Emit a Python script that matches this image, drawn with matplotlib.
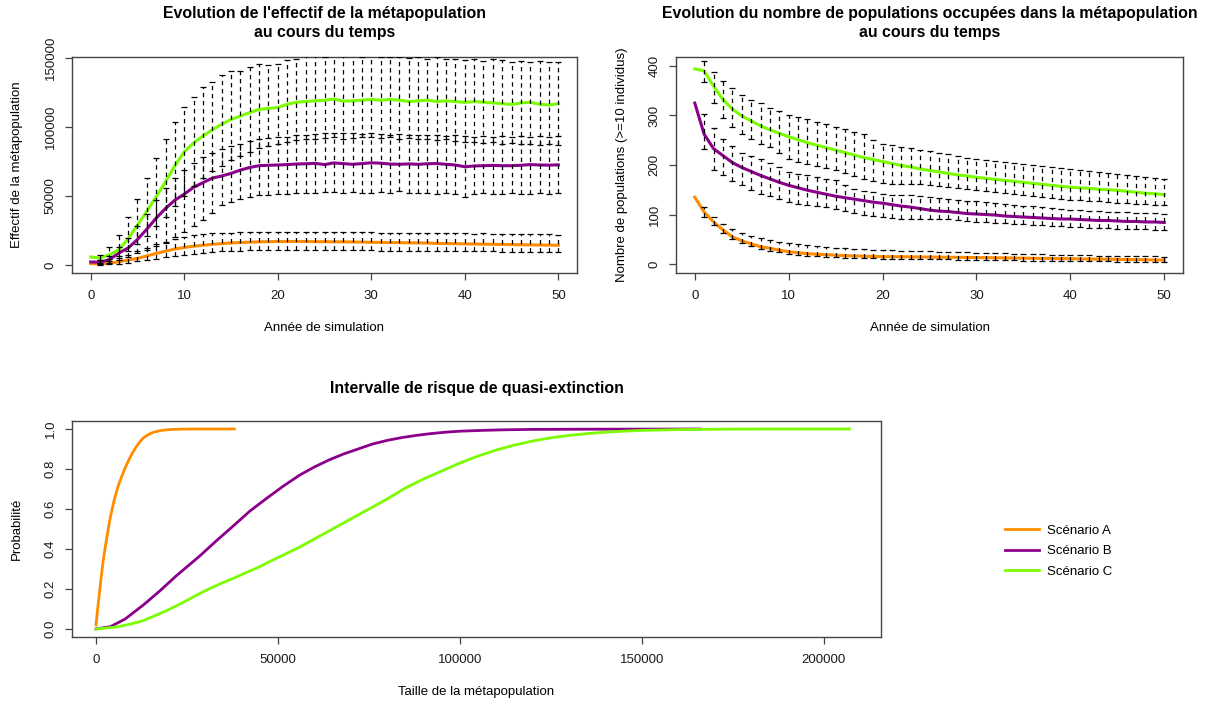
import numpy as np
import matplotlib
matplotlib.use('Agg')
import matplotlib.pyplot as plt

plt.rcParams['font.family'] = ['Liberation Sans', 'DejaVu Sans']
plt.rcParams['font.size'] = 9.5

# ---- data ----
years = np.arange(0, 51)
bar_years = np.arange(1, 51)

# metapopulation size (mean per year)
effA = [1000, 800, 1200, 2400, 3600, 4800, 6600, 8400, 10000, 11600, 12700, 13600, 14300, 15000, 15500,
        16000, 16300, 16500, 16800, 16900, 17000, 17000, 17100, 17000, 16900, 16900, 16800, 16800, 16700,
        16600, 16500, 16400, 16300, 16200, 16100, 16000, 15900, 15700, 15600, 15400, 15300, 15200, 15100,
        15000, 14900, 14800, 14700, 14600, 14500, 14400, 14300]
effB = [2200, 2000, 3800, 8700, 12300, 18500, 26000, 34000, 41000, 47000, 51400, 56300, 59700, 63000, 64500,
        66400, 68800, 70700, 72000, 72300, 72500, 72800, 73200, 73400, 73700, 72800, 74000, 73500, 73000,
        73500, 74100, 73800, 73200, 73000, 73300, 73000, 73400, 73600, 73000, 72500, 71200, 71800, 72000,
        72200, 72000, 72000, 72300, 72800, 72500, 72400, 72600]
effC = [5800, 5000, 7500, 11000, 19000, 29000, 39000, 49500, 60400, 72000, 82000, 88500, 93500, 98000, 102000,
        105500, 108000, 110500, 112800, 113500, 114200, 116500, 118000, 118500, 119000, 119500, 120300, 118800,
        119000, 119500, 120000, 119500, 120000, 119500, 118500, 119000, 119500, 118500, 119000, 118500, 117900,
        118500, 118000, 117500, 117000, 116400, 117500, 118000, 116500, 116000, 117000]
# interval bounds, years 1..50
effA_hi = [1500, 3000, 5000, 7500, 10000, 12500, 15000, 17000, 19000, 20500, 21500, 22500, 23000, 23500, 23500,
           23600, 23700, 23800, 23800, 23900, 24000, 23900, 24000, 23900, 23800, 23900, 23700, 23800, 23600, 23700,
           23500, 23400, 23500, 23300, 23200, 23300, 23100, 23000, 23100, 22900, 22800, 22900, 22700, 22600, 22700,
           22500, 22400, 22300, 22200, 22100]
effA_lo = [300, 500, 1000, 1800, 2600, 3500, 4500, 5500, 6500, 7400, 8200, 8900, 9400, 9800, 10200,
           10500, 10600, 10700, 10800, 10800, 10900, 10900, 10800, 10900, 10800, 10800, 10700, 10700, 10600, 10600,
           10500, 10500, 10400, 10400, 10300, 10200, 10200, 10100, 10000, 10000, 9900, 9800, 9800, 9700, 9600,
           9600, 9500, 9400, 9400, 9300]
effB_hi = [3500, 6500, 13000, 19500, 28000, 37000, 47000, 56000, 63000, 69000, 74000, 78000, 81500, 84000, 86000,
           88000, 90000, 91500, 92000, 92500, 93000, 94000, 94500, 95000, 95500, 96000, 95500, 96000, 95000, 95500,
           95000, 94500, 95000, 94500, 94000, 94500, 94000, 93500, 94000, 93500, 93000, 93500, 93000, 93500, 93000,
           93500, 93000, 93500, 93000, 93500]
effB_lo = [800, 1500, 3500, 6000, 8500, 10900, 13500, 16200, 20000, 24100, 28000, 32600, 38000, 43500, 46000,
           48000, 49500, 50500, 51000, 51400, 51800, 52000, 52500, 52000, 52800, 53000, 52500, 53000, 52500, 52000,
           52800, 52500, 53600, 52000, 52500, 52000, 51500, 52000, 51800, 49000, 51500, 52000, 51500, 51800, 52000,
           51500, 51800, 52000, 51500, 52000]
effC_hi = [7000, 12800, 21700, 34500, 47800, 62800, 77800, 91300, 103600, 114200, 122000, 129200, 132800, 137700,
           140800, 141000, 143700, 145400, 145000, 145500, 148500, 149700, 151500, 152000, 151000, 152000, 151500,
           152000, 151000, 152500, 151000, 150500, 151000, 150000, 150500, 149500, 150500, 149000, 149500, 148500,
           149000, 148000, 149000, 148500, 147500, 148000, 147500, 148000, 147000, 147500]
effC_lo = [3500, 4500, 6500, 10000, 15000, 21000, 28000, 35000, 43000, 50000, 57000, 63000, 68000, 72000, 76000,
           79000, 82000, 85000, 86500, 88000, 89000, 90500, 91000, 91500, 92000, 92500, 91500, 92000, 92500, 93000,
           92000, 92500, 91500, 92000, 91000, 91500, 90500, 91000, 90000, 89500, 89000, 88500, 89000, 88000, 88500,
           87500, 88000, 87000, 87500, 87000]

# number of occupied populations (>=10 individuals)
popA = [135, 105, 85, 69, 55, 47, 41, 35, 32, 28, 25, 23, 21, 20, 19, 18, 17, 16.5, 16, 15.5, 15, 15, 14.8,
        14.6, 14.4, 14.2, 14, 13.8, 13.6, 13.4, 13.2, 13, 12.8, 12.5, 12.2, 12, 11.8, 11.5, 11.2, 11, 10.8, 10.5,
        10.2, 10, 9.8, 9.5, 9.2, 9, 8.7, 8.4, 8]
popB = [325, 262, 233, 219, 205, 195, 187, 179, 172, 165, 159, 154, 149, 145, 141, 137, 134, 131, 128, 125, 123,
        120, 117, 115, 112, 109, 107, 106, 104, 102, 101, 100, 99, 97, 96, 95, 94, 93, 92, 91, 91, 90, 89, 88, 88,
        87, 86, 86, 85, 85, 84]
popC = [394, 390, 359, 332, 313, 299, 289, 279, 271, 264, 257, 251, 245, 240, 235, 230, 225, 220, 215, 211, 207,
        203, 199, 196, 192, 189, 186, 183, 180, 178, 175, 173, 171, 169, 167, 165, 163, 161, 159, 157, 155, 154,
        153, 151, 150, 149, 147, 145, 143, 142, 140]
popA_hi = [116, 96, 80, 70, 62, 56, 52, 48, 45, 42, 40, 38, 36, 35, 33, 32, 31, 30, 29, 28, 27.5, 27, 26.5, 26,
           25.5, 25, 24.5, 24, 23.5, 23, 22.5, 22, 21.5, 21, 20.5, 20, 19.6, 19.2, 18.8, 18.4, 18, 17.6, 17.3, 17,
           16.7, 16.4, 16, 15.7, 15.4, 15]
popA_lo = [96, 78, 62, 50, 42, 36, 30, 27, 24, 21, 19, 17, 16, 15, 14, 13, 12.5, 12, 11.5, 11, 10.8, 10.6, 10.4,
           10.2, 10, 9.8, 9.5, 9.2, 9, 8.7, 8.4, 8.1, 7.8, 7.5, 7.2, 7, 6.8, 6.6, 6.4, 6.2, 6, 5.8, 5.6, 5.4, 5.2,
           5, 4.8, 4.6, 4.4, 4.2]
popB_hi = [302, 275, 253, 239, 225, 218, 212, 205, 195, 185, 182, 179, 176, 172, 169, 160, 152, 148, 145, 142,
           140, 139, 139, 138, 136, 134, 132, 130, 128, 127, 125, 123, 121, 119, 118, 117, 116, 114, 112, 110, 109,
           108, 107, 106, 106, 105, 104, 103, 103, 102]
popB_lo = [232, 189, 179, 168, 159, 150, 142, 137, 131, 125, 122, 119, 117, 115, 112, 108, 104, 100, 98, 96, 94,
           92, 92, 92, 92, 91, 90, 88, 87, 85, 84, 83, 82, 81, 80, 79, 78, 77, 76, 75, 74, 73, 73, 72, 71, 71, 70,
           70, 69, 69]
popC_hi = [409, 387, 370, 355, 342, 332, 325, 315, 309, 301, 297, 292, 287, 282, 277, 272, 267, 262, 251, 242,
           240, 237, 234, 231, 229, 225, 222, 218, 215, 212, 210, 208, 206, 204, 202, 200, 198, 196, 194, 192, 190,
           188, 186, 184, 182, 180, 178, 176, 174, 171]
popC_lo = [367, 325, 295, 277, 262, 252, 243, 236, 224, 212, 207, 202, 197, 193, 189, 184, 178, 172, 167, 163,
           162, 162, 162, 161, 160, 158, 156, 154, 152, 150, 148, 146, 144, 142, 140, 138, 136, 134, 132, 130, 129,
           128, 127, 126, 124, 123, 122, 121, 120, 119]

# quasi-extinction risk curves
riskA_x = [0, 500, 1000, 1500, 2000, 2500, 3000, 3500, 4000, 5000, 6000, 7000, 8000, 9000, 10000, 11000,
           12000, 13000, 14000, 15000, 16000, 18000, 20000, 23000, 26000, 38000]
riskA_p = [0.02, 0.11, 0.19, 0.27, 0.345, 0.405, 0.46, 0.515, 0.565, 0.645, 0.71, 0.76, 0.805, 0.845, 0.88,
           0.91, 0.935, 0.955, 0.968, 0.978, 0.985, 0.993, 0.997, 0.999, 1.0, 1.0]
riskB_x = [0, 4000, 8000, 13000, 17500, 22000, 28500, 33000, 37700, 42300, 47000, 51500, 56000, 60000, 64000,
           68000, 72000, 76000, 80000, 84000, 88000, 92000, 96000, 100000, 106000, 112000, 120000, 135000, 166000]
riskB_p = [0, 0.012, 0.05, 0.12, 0.19, 0.265, 0.365, 0.44, 0.515, 0.59, 0.655, 0.715, 0.77, 0.81, 0.845,
           0.875, 0.9, 0.925, 0.943, 0.957, 0.968, 0.977, 0.984, 0.989, 0.993, 0.996, 0.998, 0.999, 1.0]
riskC_x = [0, 5700, 10000, 13000, 16000, 19400, 22000, 24900, 27500, 30400, 34000, 37700, 41000, 45000, 48000,
           51500, 56000, 60000, 65000, 70000, 75000, 80000, 85000, 90000, 95000, 100000, 105000, 110000, 115000,
           120000, 125000, 130000, 135000, 140000, 145000, 150000, 160000, 170000, 185000, 207000]
riskC_p = [0, 0.01, 0.027, 0.042, 0.065, 0.092, 0.115, 0.142, 0.168, 0.195, 0.225, 0.253, 0.28, 0.312, 0.34,
           0.37, 0.41, 0.45, 0.5, 0.55, 0.6, 0.65, 0.705, 0.75, 0.79, 0.83, 0.865, 0.895, 0.92, 0.94, 0.956,
           0.968, 0.977, 0.984, 0.989, 0.993, 0.997, 0.999, 1.0, 1.0]

labels = ['Scénario A', 'Scénario B', 'Scénario C']
colors = ['#FF8C00', '#8B008B', '#7CFC00']

W, H = 1206, 704
fig = plt.figure(figsize=(W / 100, H / 100), dpi=100)


def px_axes(x0, y0, x1, y1):
    return fig.add_axes([x0 / W, 1 - y1 / H, (x1 - x0) / W, (y1 - y0) / H])


def r_style(ax):
    for s in ax.spines.values():
        s.set_color('#444444')
        s.set_linewidth(1.0)
    ax.tick_params(length=5, width=0.9, color='#444444', labelcolor='#1a1a1a')
    ax.tick_params(axis='x', pad=7)
    ax.tick_params(axis='y', pad=6, labelrotation=90)
    for lab in ax.get_yticklabels():
        lab.set_va('center')


def draw_bars(ax, lo, hi):
    ax.vlines(bar_years, lo, hi, colors='black', linewidth=0.9, linestyles=(0, (3.5, 3)), zorder=3)
    ax.plot(bar_years, hi, ls='none', marker='_', ms=4.5, mew=0.9, color='black', zorder=3)
    ax.plot(bar_years, lo, ls='none', marker='_', ms=4.5, mew=0.9, color='black', zorder=3)


def title(ax, lines, y0, y1):
    # y0/y1: pixel rows of axes top/bottom; one text per title line
    for txt, yc in lines:
        ax.text(0.5, (y1 - yc) / (y1 - y0), txt, transform=ax.transAxes, ha='center', va='center',
                fontweight='bold', fontsize=11.4)


# ---- top left: metapopulation size ----
ax1 = px_axes(72, 57, 577, 273)
for y, c in zip([effA, effB, effC], colors):
    ax1.plot(years, y, color=c, lw=2.2, zorder=2)
for lo, hi in [(effA_lo, effA_hi), (effB_lo, effB_hi), (effC_lo, effC_hi)]:
    draw_bars(ax1, lo, hi)
ax1.set_xlim(-2, 52)
ax1.set_ylim(-5800, 150800)
ax1.set_xticks([0, 10, 20, 30, 40, 50])
ax1.set_yticks([0, 50000, 100000, 150000])
ax1.set_yticklabels(['0', '50000', '100000', '150000'])
r_style(ax1)
ax1.set_xlabel('Année de simulation')
ax1.xaxis.set_label_coords(0.5, -(328 - 273) / 216)
ax1.xaxis.label.set_va('center')
ax1.set_ylabel('Effectif de la métapopulation')
ax1.yaxis.set_label_coords(-(72 - 17) / 505, 0.5)
ax1.yaxis.label.set_va('center')
title(ax1, [("Evolution de l'effectif de la métapopulation", 14), ("au cours du temps", 33)], 57, 273)

# ---- top right: occupied populations ----
ax2 = px_axes(676, 57, 1183, 273)
for y, c in zip([popA, popB, popC], colors):
    ax2.plot(years, y, color=c, lw=2.2, zorder=2)
for lo, hi in [(popA_lo, popA_hi), (popB_lo, popB_hi), (popC_lo, popC_hi)]:
    draw_bars(ax2, lo, hi)
ax2.set_xlim(-2, 52)
ax2.set_ylim(-18, 418)
ax2.set_xticks([0, 10, 20, 30, 40, 50])
ax2.set_yticks([0, 100, 200, 300, 400])
r_style(ax2)
ax2.set_xlabel('Année de simulation')
ax2.xaxis.set_label_coords(0.5, -(328 - 273) / 216)
ax2.xaxis.label.set_va('center')
ax2.set_ylabel('Nombre de populations (>=10 individus)')
ax2.yaxis.set_label_coords(-(676 - 622) / 507, 0.5)
ax2.yaxis.label.set_va('center')
title(ax2, [("Evolution du nombre de populations occupées dans la métapopulation", 14),
            ("au cours du temps", 33)], 57, 273)

# ---- bottom: quasi-extinction risk ----
ax3 = px_axes(72, 421, 881, 637)
lines = []
for xs, ps, c, lab in zip([riskA_x, riskB_x, riskC_x], [riskA_p, riskB_p, riskC_p], colors, labels):
    ln, = ax3.plot(xs, ps, color=c, lw=2.0, label=lab)
    lines.append(ln)
ax3.set_xlim(-6600, 215700)
ax3.set_ylim(-0.04, 1.04)
ax3.set_xticks([0, 50000, 100000, 150000, 200000])
ax3.set_yticks([0, 0.2, 0.4, 0.6, 0.8, 1.0])
ax3.set_yticklabels(['0.0', '0.2', '0.4', '0.6', '0.8', '1.0'])
r_style(ax3)
ax3.set_xlabel('Taille de la métapopulation')
ax3.xaxis.set_label_coords(0.5, -(692 - 637) / 216)
ax3.xaxis.label.set_va('center')
ax3.set_ylabel('Probabilité')
ax3.yaxis.set_label_coords(-(72 - 17) / 809, 0.5)
ax3.yaxis.label.set_va('center')
title(ax3, [('Intervalle de risque de quasi-extinction', 388)], 421, 637)

fig.legend(handles=lines, loc='center left', bbox_to_anchor=(993 / W, 1 - 551 / H),
           frameon=False, handlelength=2.6, handletextpad=0.6, labelspacing=0.62, fontsize=9.5)

fig.savefig('out.png', dpi=100)
